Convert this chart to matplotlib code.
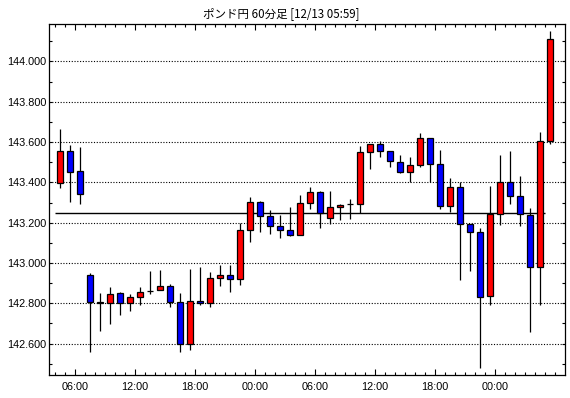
import matplotlib
matplotlib.use('Agg')
import matplotlib.pyplot as plt
import numpy as np

title = 'ポンド円 60分足 [12/13 05:59]'

# hourly OHLC, oldest first (04:00 on 12/11 .. 05:00 on 12/13)
opens = [143.395, 143.556, 143.455, 142.939, 142.806, 142.800, 142.850, 142.800, 142.830, 142.861,
         142.866, 142.884, 142.805, 142.598, 142.810, 142.800, 142.924, 142.939, 142.919, 143.162,
         143.301, 143.232, 143.182, 143.162, 143.137, 143.296, 143.351, 143.222, 143.276, 143.291,
         143.291, 143.549, 143.589, 143.554, 143.500, 143.450, 143.485, 143.619, 143.490, 143.281,
         143.376, 143.192, 143.152, 142.835, 143.242, 143.400, 143.331, 143.237, 142.979, 143.604]
highs = [143.665, 143.586, 143.576, 142.950, 142.851, 142.881, 142.855, 142.845, 142.881, 142.960,
         142.965, 142.896, 142.851, 142.970, 142.980, 142.955, 142.990, 142.990, 143.199, 143.328,
         143.306, 143.262, 143.237, 143.276, 143.336, 143.376, 143.356, 143.356, 143.291, 143.316,
         143.581, 143.589, 143.604, 143.554, 143.536, 143.525, 143.644, 143.619, 143.559, 143.421,
         143.400, 143.192, 143.172, 143.384, 143.537, 143.557, 143.433, 143.271, 143.649, 144.150]
lows = [143.374, 143.304, 143.291, 142.557, 142.664, 142.696, 142.740, 142.760, 142.790, 142.845,
        142.866, 142.783, 142.557, 142.568, 142.790, 142.780, 142.884, 142.855, 142.889, 143.103,
        143.152, 143.145, 143.126, 143.132, 143.137, 143.267, 143.172, 143.192, 143.212, 143.217,
        143.247, 143.465, 143.525, 143.475, 143.445, 143.400, 143.478, 143.400, 143.267, 143.252,
        142.914, 142.959, 142.477, 142.790, 143.187, 143.291, 143.182, 142.656, 142.790, 143.589]
closes = [143.556, 143.453, 143.341, 142.805, 142.799, 142.845, 142.800, 142.830, 142.855, 142.861,
          142.886, 142.805, 142.598, 142.810, 142.800, 142.924, 142.939, 142.919, 143.162, 143.301,
          143.232, 143.182, 143.162, 143.137, 143.296, 143.351, 143.247, 143.276, 143.286, 143.291,
          143.549, 143.589, 143.554, 143.505, 143.450, 143.485, 143.619, 143.490, 143.281, 143.376,
          143.192, 143.152, 142.830, 143.242, 143.400, 143.331, 143.242, 142.979, 143.604, 144.110]
ref_price = 143.247

xtick_pos = [1.5, 7.5, 13.5, 19.5, 25.5, 31.5, 37.5, 43.5]
xtick_labels = ['06:00', '12:00', '18:00', '00:00', '06:00', '12:00', '18:00', '00:00']
yticks = [142.6, 142.8, 143.0, 143.2, 143.4, 143.6, 143.8, 144.0]

o = np.array(opens)
c = np.array(closes)
x = np.arange(len(o))
colors = ['#ff0000' if cc > oo else ('#0000ff' if cc < oo else 'black') for oo, cc in zip(o, c)]

fig = plt.figure(figsize=(5.7, 3.98), dpi=100)
ax = fig.add_axes([49 / 570, 1 - 375 / 398, 516 / 570, 351 / 398])

for y in yticks:
    ax.axhline(y, color='black', lw=0.8, linestyle=(0, (1, 1.5)), zorder=1)

ax.hlines(ref_price, -0.5, len(o) - 1.5, color='black', lw=1.0, zorder=2)

ax.vlines(x, lows, highs, color='black', lw=0.9, zorder=3)
ax.bar(x, np.abs(c - o), bottom=np.minimum(o, c), width=0.65, color=colors,
       edgecolor='black', linewidth=0.9, zorder=4)

ax.set_xlim(-1.1, 50.5)
ax.set_ylim(142.444, 144.186)

ax.set_yticks(yticks)
ax.set_yticklabels(['%.3f' % v for v in yticks], fontfamily='Liberation Sans', fontsize=7.8)
ax.set_yticks(np.arange(142.5, 144.2, 0.2), minor=True)
ax.set_xticks(xtick_pos)
ax.set_xticklabels(xtick_labels, fontfamily='Liberation Sans', fontsize=7.8)
ax.set_xticks(np.arange(-0.5, 50.5, 1.0), minor=True)

ax.tick_params(axis='both', which='both', direction='in', top=True, right=True, color='black', width=0.8)
ax.tick_params(axis='x', which='major', length=4, pad=5)
ax.tick_params(axis='x', which='minor', length=2.2)
ax.tick_params(axis='y', which='major', length=2.5, pad=2)
ax.tick_params(axis='y', which='minor', length=2.5)

for s in ax.spines.values():
    s.set_linewidth(0.9)
    s.set_color('black')

fig.text(281 / 570, 1 - 14 / 398, title, ha='center', va='center', fontsize=8.3,
         family=['Noto Sans CJK JP', 'DejaVu Sans'])

fig.savefig('out.png', dpi=100)
